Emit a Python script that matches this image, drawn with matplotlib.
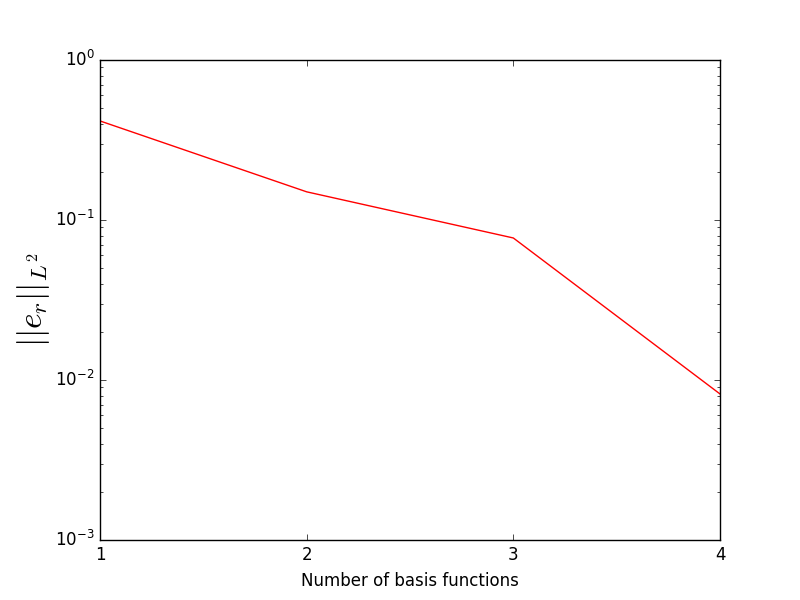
import matplotlib
matplotlib.use('Agg')
import matplotlib.pyplot as plt

n_basis = [1, 2, 3, 4]
error_l2 = [0.416, 0.150, 0.0772, 0.00818]

plt.style.use('classic')
fig = plt.figure(figsize=(8, 6), dpi=100)
fig.patch.set_facecolor('white')
ax = fig.add_subplot(111)
ax.semilogy(n_basis, error_l2, color='red')
ax.set_ylim(1e-3, 1e0)
ax.set_xticks(n_basis)
ax.set_xlabel('Number of basis functions', labelpad=6)
ax.set_ylabel(r'$||e_r||_{L^2}$', fontsize=24, labelpad=2)
fig.savefig('out.png', dpi=100, facecolor='white')
